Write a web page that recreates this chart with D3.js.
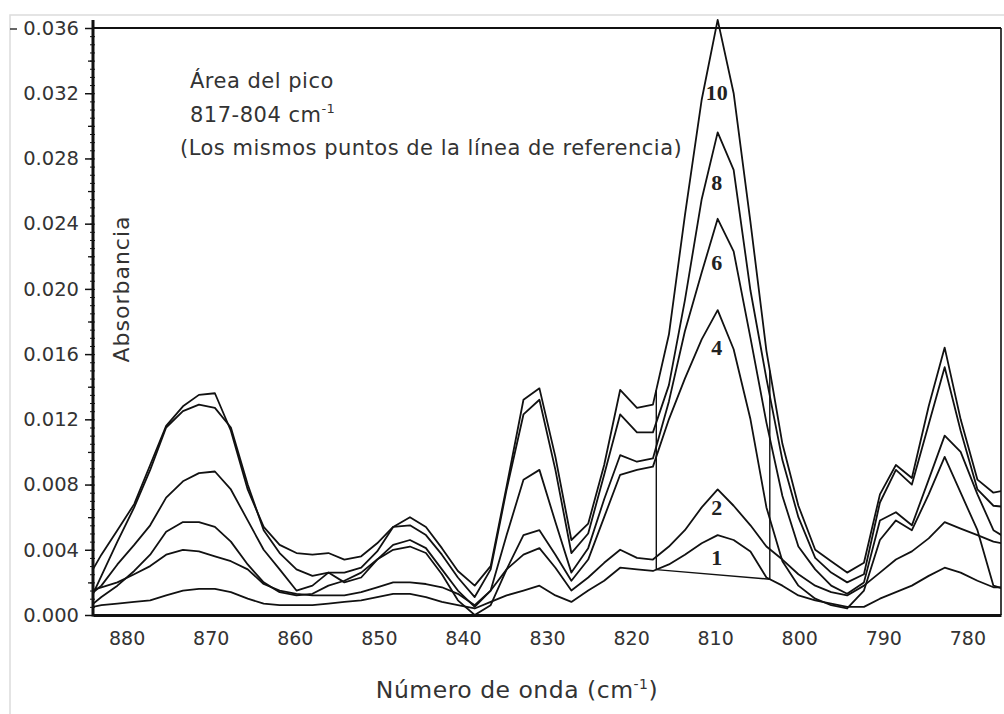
<!DOCTYPE html>
<html><head><meta charset="utf-8">
<script src="https://cdn.jsdelivr.net/npm/d3@7"></script>
<style>body{margin:0;background:#fff}</style>
</head><body>
<svg id="c" width="1004" height="714"></svg>
<script>
// ---------- data ----------
const wavenumbers = [884.9,883.0,881.1,879.1,877.2,875.3,873.3,871.4,869.5,867.6,865.6,863.7,861.8,859.8,857.9,856.0,854.1,852.1,850.2,848.3,846.3,844.4,842.5,840.6,838.6,836.7,834.8,832.8,830.9,829.0,827.1,825.1,823.2,821.3,819.3,817.4,815.5,813.6,811.6,809.7,807.8,805.8,803.9,802.0,800.1,798.1,796.2,794.3,792.3,790.4,788.5,786.6,784.6,782.7,780.8,778.8,776.9,775.0];
const s10 = [0.0020,0.0037,0.0052,0.0068,0.0092,0.0116,0.0128,0.0135,0.0136,0.0113,0.0077,0.0054,0.0043,0.0038,0.0037,0.0038,0.0034,0.0036,0.0044,0.0054,0.0060,0.0054,0.0041,0.0027,0.0018,0.0030,0.0079,0.0132,0.0139,0.0097,0.0046,0.0056,0.0092,0.0138,0.0127,0.0129,0.0172,0.0245,0.0316,0.0365,0.0320,0.0241,0.0162,0.0105,0.0067,0.0040,0.0033,0.0026,0.0032,0.0074,0.0092,0.0084,0.0128,0.0164,0.0120,0.0083,0.0075,0.0077];
const s8 = [0.0003,0.0024,0.0045,0.0066,0.0089,0.0115,0.0125,0.0129,0.0127,0.0115,0.0080,0.0052,0.0038,0.0028,0.0024,0.0026,0.0026,0.0029,0.0039,0.0054,0.0055,0.0049,0.0037,0.0023,0.0011,0.0028,0.0077,0.0123,0.0132,0.0089,0.0038,0.0050,0.0086,0.0123,0.0112,0.0112,0.0141,0.0193,0.0255,0.0296,0.0273,0.0199,0.0145,0.0095,0.0060,0.0035,0.0026,0.0020,0.0025,0.0069,0.0089,0.0080,0.0117,0.0152,0.0113,0.0077,0.0067,0.0066];
const s6 = [0.0010,0.0018,0.0031,0.0043,0.0055,0.0072,0.0082,0.0087,0.0088,0.0077,0.0058,0.0040,0.0028,0.0015,0.0018,0.0026,0.0020,0.0023,0.0034,0.0043,0.0046,0.0041,0.0028,0.0015,0.0005,0.0015,0.0049,0.0083,0.0089,0.0057,0.0026,0.0041,0.0071,0.0098,0.0094,0.0096,0.0131,0.0174,0.0210,0.0243,0.0223,0.0170,0.0118,0.0073,0.0042,0.0028,0.0018,0.0013,0.0020,0.0058,0.0063,0.0055,0.0083,0.0110,0.0100,0.0074,0.0052,0.0046];
const s4 = [0.0003,0.0011,0.0018,0.0027,0.0037,0.0051,0.0057,0.0057,0.0054,0.0045,0.0031,0.0020,0.0014,0.0012,0.0013,0.0018,0.0021,0.0026,0.0034,0.0040,0.0042,0.0038,0.0025,0.0009,0.0000,0.0006,0.0028,0.0049,0.0052,0.0037,0.0021,0.0034,0.0060,0.0086,0.0089,0.0091,0.0120,0.0145,0.0169,0.0187,0.0163,0.0120,0.0066,0.0033,0.0018,0.0010,0.0006,0.0004,0.0015,0.0046,0.0058,0.0052,0.0074,0.0097,0.0075,0.0052,0.0018,0.0015];
const s2 = [0.0014,0.0017,0.0020,0.0025,0.0030,0.0037,0.0040,0.0039,0.0036,0.0033,0.0028,0.0019,0.0015,0.0013,0.0012,0.0012,0.0012,0.0014,0.0017,0.0020,0.0020,0.0019,0.0017,0.0013,0.0006,0.0015,0.0028,0.0037,0.0041,0.0029,0.0015,0.0023,0.0032,0.0040,0.0035,0.0034,0.0042,0.0052,0.0066,0.0077,0.0067,0.0055,0.0042,0.0034,0.0025,0.0018,0.0014,0.0012,0.0018,0.0026,0.0034,0.0039,0.0047,0.0057,0.0053,0.0049,0.0045,0.0043];
const s1 = [0.0004,0.0006,0.0007,0.0008,0.0009,0.0012,0.0015,0.0016,0.0016,0.0014,0.0010,0.0007,0.0006,0.0006,0.0006,0.0007,0.0008,0.0009,0.0011,0.0013,0.0013,0.0011,0.0008,0.0006,0.0004,0.0008,0.0012,0.0015,0.0018,0.0012,0.0008,0.0015,0.0021,0.0029,0.0028,0.0027,0.0031,0.0037,0.0044,0.0049,0.0046,0.0039,0.0023,0.0018,0.0012,0.0009,0.0007,0.0005,0.0005,0.0010,0.0014,0.0018,0.0024,0.0029,0.0026,0.0021,0.0017,0.0017];
const seriesNames = ["10","8","6","4","2","1"];
const seriesValues = [s10, s8, s6, s4, s2, s1];
const yTicks = [0,0.004,0.008,0.012,0.016,0.020,0.024,0.028,0.032,0.036];
const xTicks = [880,870,860,850,840,830,820,810,800,790,780];
const refBounds = [817, 803.5];   // límites del área del pico (cm-1)

// ---------- layout ----------
const L = 93, R = 1001, T = 28, B = 615;
const labelDy = [73, 50, 44, 37, 18, 22];
const ink = "#111", txt = "#333";

const svg = d3.select("#c");
const x = d3.scaleLinear().domain([884, 776]).range([L, R]);
const y = d3.scaleLinear().domain([0, 0.036]).range([B, T]);

// faint image border
svg.append("path").attr("d", `M10,714V15H1004`).attr("fill","none").attr("stroke","#dcdcdc").attr("stroke-width",1.5);

svg.append("defs").append("clipPath").attr("id","clip")
  .append("rect").attr("x", L).attr("y", 0).attr("width", R - L).attr("height", B);

// top frame + right border
svg.append("line").attr("x1", L).attr("x2", R).attr("y1", y(0.036)).attr("y2", y(0.036))
  .attr("stroke", ink).attr("stroke-width", 2.2);
svg.append("line").attr("x1", R).attr("x2", R).attr("y1", y(0.036)).attr("y2", B)
  .attr("stroke", ink).attr("stroke-width", 1.6);

// curves
const line = d3.line().x((d,i)=>x(wavenumbers[i])).y(d=>y(d));
const g = svg.append("g").attr("clip-path","url(#clip)");
seriesValues.forEach(vals=>{
  g.append("path").attr("d", line(vals)).attr("fill","none")
    .attr("stroke", ink).attr("stroke-width", 1.8).attr("stroke-linejoin","round");
});

// reference lines (same points of the baseline)
function valueAt(vals, w){
  for(let i=0;i<wavenumbers.length-1;i++){
    const a=wavenumbers[i], b=wavenumbers[i+1];
    if(w<=a && w>=b){ const t=(a-w)/(a-b); return vals[i]+(vals[i+1]-vals[i])*t; }
  }
  return vals[0];
}
const lo = refBounds.map(w=>valueAt(s1,w));
const hi = refBounds.map(w=>valueAt(s10,w));
svg.append("line").attr("x1",x(refBounds[0])).attr("y1",y(lo[0])).attr("x2",x(refBounds[1])).attr("y2",y(lo[1]))
  .attr("stroke",ink).attr("stroke-width",1.4);
refBounds.forEach((w,i)=>{
  svg.append("line").attr("x1",x(w)).attr("x2",x(w)).attr("y1",y(lo[i])).attr("y2",y(hi[i]))
    .attr("stroke",ink).attr("stroke-width",1.4);
});

// curve labels
seriesNames.forEach((n,i)=>{
  const vals = seriesValues[i];
  let im = -1;
  vals.forEach((v,j)=>{ if(wavenumbers[j]<815 && wavenumbers[j]>805 && (im<0 || v>vals[im])) im=j; });
  svg.append("text").attr("x", x(wavenumbers[im])-1).attr("y", y(vals[im]) + labelDy[i])
    .attr("text-anchor","middle").attr("dominant-baseline","central")
    .attr("font-family","Liberation Serif, serif").attr("font-weight","bold").attr("font-size",22)
    .attr("fill","#222").text(n);
});

// y axis
const yMinor = svg.append("g").attr("transform",`translate(${L},0)`)
  .call(d3.axisLeft(y).tickValues(d3.range(0,0.0361,0.0005)).tickSize(3).tickFormat(""));
const yMinorR = svg.append("g").attr("transform",`translate(${L},0)`)
  .call(d3.axisRight(y).tickValues(d3.range(0,0.0361,0.0005)).tickSize(2).tickFormat(""));
[yMinor,yMinorR].forEach(a=>{a.select(".domain").remove(); a.selectAll("line").attr("stroke",ink).attr("stroke-width",1);});
const yMid = svg.append("g").attr("transform",`translate(${L},0)`)
  .call(d3.axisLeft(y).tickValues([0.002,0.006,0.010,0.014,0.018,0.022,0.026,0.030,0.034]).tickSize(5).tickFormat(""));
yMid.select(".domain").remove(); yMid.selectAll("line").attr("stroke",ink).attr("stroke-width",1.3);
const yAx = svg.append("g").attr("transform",`translate(${L},0)`)
  .call(d3.axisLeft(y).tickValues(yTicks).tickSize(8).tickPadding(6).tickFormat(d3.format(".3f")));
yAx.select(".domain").remove();
yAx.selectAll("line").attr("stroke",ink).attr("stroke-width",1.5);
yAx.selectAll("text").attr("font-family","DejaVu Sans, sans-serif").attr("font-size",19.5).attr("fill",txt);
svg.append("line").attr("x1",L).attr("x2",L).attr("y1",T-8).attr("y2",B+1.5).attr("stroke",ink).attr("stroke-width",3);
// small dash before top label
svg.append("line").attr("x1",10).attr("x2",17).attr("y1",y(0.036)+1).attr("y2",y(0.036)+1).attr("stroke",txt).attr("stroke-width",1.5);

// x axis
const xAx = svg.append("g").attr("transform",`translate(0,${B})`)
  .call(d3.axisBottom(x).tickValues(xTicks).tickSize(0).tickPadding(17).tickFormat(d3.format("d")));
xAx.select(".domain").attr("stroke",ink).attr("stroke-width",3);
xAx.selectAll("text").attr("font-family","DejaVu Sans, sans-serif").attr("font-size",19).attr("fill",txt);

// axis titles
const xt = svg.append("text").attr("x",517).attr("y",698).attr("text-anchor","middle")
  .attr("font-family","DejaVu Sans, sans-serif").attr("font-size",23.5).attr("letter-spacing",0.5).attr("fill",txt);
xt.append("tspan").text("Número de onda (cm");
xt.append("tspan").attr("dy",-9).attr("font-size",14).text("-1");
xt.append("tspan").attr("dy",9).text(")");

svg.append("text").attr("transform","translate(129,289) rotate(-90)").attr("text-anchor","middle")
  .attr("font-family","DejaVu Sans, sans-serif").attr("font-size",22).attr("letter-spacing",1).attr("fill",txt).text("Absorbancia");

// annotation
const ann = svg.append("g").attr("font-family","DejaVu Sans, sans-serif").attr("font-size",21).attr("letter-spacing",0.5).attr("fill",txt);
ann.append("text").attr("x",190).attr("y",88).text("Área del pico");
const a2 = ann.append("text").attr("x",190).attr("y",122);
a2.append("tspan").text("817-804 cm");
a2.append("tspan").attr("dy",-9).attr("font-size",13).text("-1");
ann.append("text").attr("x",180).attr("y",155).text("(Los mismos puntos de la línea de referencia)");
</script>
</body></html>
